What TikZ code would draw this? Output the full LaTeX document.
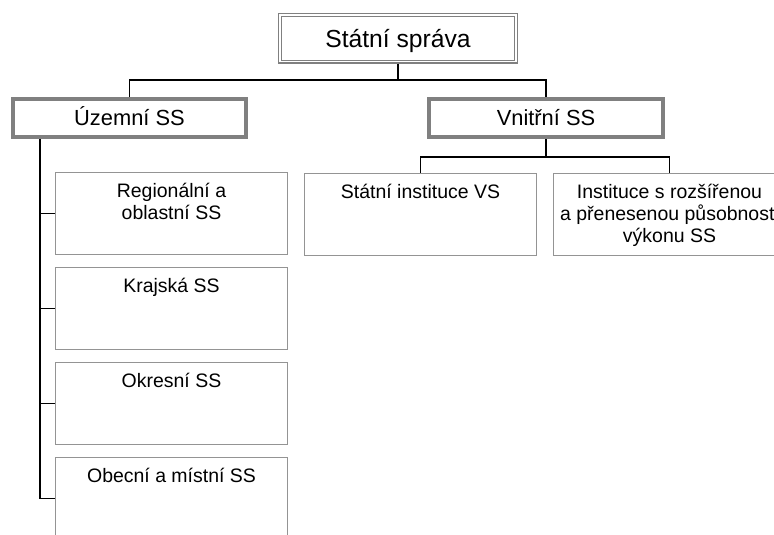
\documentclass[tikz,border=0pt]{standalone}
\usepackage{fontspec}
\setmainfont{Liberation Sans}
\usepackage{tikz}

\definecolor{framegray}{gray}{0.5}
\definecolor{boxgray}{gray}{0.58}
\newcommand{\boxtext}[1]{\parbox[t][62pt][t]{174pt}{\centering\rule{0pt}{19pt}#1}}

\begin{document}
\begin{tikzpicture}[x=0.75pt,y=-0.75pt,
  topbox/.style={draw=framegray, double=white, line width=1.1pt, double distance=1pt,
    outer sep=1.6pt, minimum width=177pt, minimum height=35pt, inner sep=0pt,
    text height=13.2pt, text depth=0pt, font=\fontsize{18.5}{22}\selectfont},
  midbox/.style={draw=framegray, line width=3pt, minimum width=175pt, minimum height=29pt,
    inner sep=0pt, text height=11.7pt, text depth=0pt, font=\fontsize{16.4}{19}\selectfont},
  cbox/.style={draw=boxgray, line width=0.75pt, inner sep=0pt,
    font=\fontsize{14.6}{16.5}\selectfont},
  conn/.style={draw=black, line width=0.8pt}]
\useasboundingbox (0,0) rectangle (774,535);

\node[topbox] (ss) at (398,38.5) {Státní správa};
\node[midbox] (uz) at (129.5,118) {Územní SS};
\node[midbox] (vn) at (546,118) {Vnitřní SS};

\coordinate (ssj) at (398,80);
\coordinate (vnj) at (546,157);
\coordinate (trunk) at (40,0);

\draw[conn] (ss.south) -- (ssj);
\draw[conn] (uz.north) |- (ssj) -| (vn.north);

% uzemni
\foreach \n/\y/\t in {reg/213.5/{Regionální a\\oblastní SS}, kr/308.5/{Krajská SS},
                      ok/403.5/{Okresní SS}, ob/498.5/{Obecní a místní SS}} {
\node[cbox] (\n) at (171.5,\y) {\boxtext{\t}};
\draw[conn] (trunk |- \n.west) -- (\n.west);
}
\draw[conn] (uz.south -| trunk) -- (trunk |- ob.west);

% vnitrni
\node[cbox] (si) at (420.5,214.5) {\boxtext{Státní instituce VS}};
\node[cbox] (ir) at (669.5,214.5) {\boxtext{Instituce s rozšířenou\\a přenesenou působnosti\\výkonu SS}};
\draw[conn] (vn.south) -- (vnj);
\draw[conn] (si.north) |- (vnj) -| (ir.north);
\end{tikzpicture}
\end{document}
